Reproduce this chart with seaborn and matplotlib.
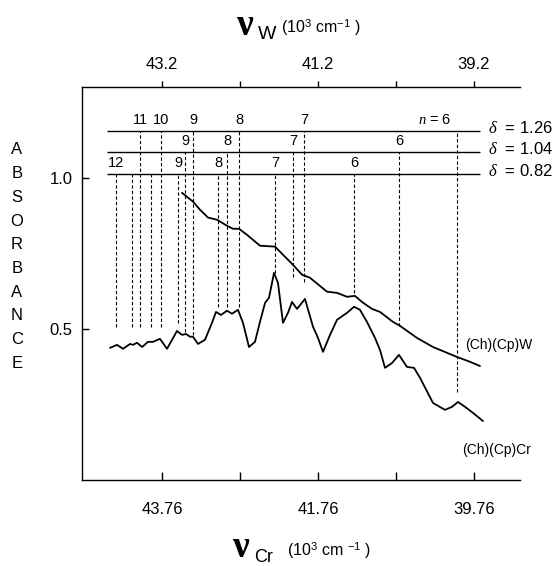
import matplotlib
matplotlib.use('Agg')
import matplotlib.pyplot as plt
import seaborn as sns
import pandas as pd

# (Ch)(Cp)Cr spectrum: wavenumber (10^3 cm-1, Cr scale) and absorbance
cr_wavenumber = [44.427, 44.337, 44.26, 44.17, 44.132, 44.081, 44.016, 43.939, 43.875, 43.786,
                 43.696, 43.568, 43.504, 43.452, 43.401, 43.363, 43.298, 43.209, 43.119, 43.068,
                 43.004, 42.927, 42.863, 42.786, 42.722, 42.645, 42.568, 42.504, 42.439, 42.388,
                 42.324, 42.273, 42.209, 42.145, 42.093, 42.029, 41.927, 41.824, 41.76, 41.696,
                 41.606, 41.516, 41.388, 41.298, 41.222, 41.132, 41.029, 40.965, 40.901, 40.811,
                 40.722, 40.619, 40.529, 40.452, 40.286, 40.132, 40.042, 39.965, 39.875, 39.773,
                 39.645]
cr_absorbance = [0.437, 0.447, 0.434, 0.450, 0.447, 0.454, 0.440, 0.457, 0.457, 0.467,
                 0.434, 0.493, 0.480, 0.483, 0.474, 0.474, 0.450, 0.464, 0.520, 0.556,
                 0.546, 0.560, 0.550, 0.563, 0.520, 0.440, 0.457, 0.523, 0.586, 0.603,
                 0.685, 0.652, 0.520, 0.553, 0.589, 0.566, 0.599, 0.507, 0.470, 0.424,
                 0.480, 0.530, 0.553, 0.573, 0.563, 0.523, 0.470, 0.430, 0.371, 0.387,
                 0.414, 0.374, 0.371, 0.338, 0.255, 0.232, 0.242, 0.258, 0.242, 0.222,
                 0.195]

# (Ch)(Cp)W spectrum, plotted on the Cr scale (nu_W = nu_Cr - 0.56)
w_wavenumber = [43.504, 43.363, 43.273, 43.17, 43.055, 42.927, 42.85, 42.773, 42.67, 42.504,
                42.311, 42.209, 42.081, 41.965, 41.863, 41.645, 41.516, 41.388, 41.286, 41.196,
                41.068, 40.965, 40.799, 40.709, 40.491, 40.286, 39.978, 39.811, 39.683]
w_absorbance = [0.950, 0.921, 0.894, 0.868, 0.861, 0.841, 0.831, 0.831, 0.811, 0.775,
                0.772, 0.745, 0.712, 0.679, 0.669, 0.623, 0.619, 0.606, 0.609, 0.589,
                0.566, 0.556, 0.523, 0.510, 0.470, 0.440, 0.407, 0.391, 0.377]
w_shift = 0.56

# Rydberg series: quantum defect, level of the marker line, n, positions, lower ends
deltas = [1.26, 1.04, 0.82]
delta_levels = [1.156, 1.086, 1.013]
series_n = [[6, 7, 8, 9, 10, 11],
            [6, 7, 8, 9],
            [6, 7, 8, 9, 10, 11, 12]]
series_x = [[39.978, 41.940, 42.773, 43.363, 43.773, 44.042],
            [40.722, 42.081, 42.927, 43.465],
            [41.298, 42.311, 43.042, 43.555, 43.901, 44.145, 44.350]]
series_end = [[0.291, 0.656, 0.573, 0.480, 0.507, 0.507],
              [0.510, 0.672, 0.573, 0.490],
              [0.619, 0.685, 0.573, 0.520, 0.507, 0.507, 0.507]]
series_labeled = [[6, 7, 8, 9, 10, 11],
                  [6, 7, 8, 9],
                  [6, 7, 8, 9, 12]]
line_span = (44.465, 39.683)

cr_ticks = [43.76, 42.76, 41.76, 40.76, 39.76]
cr_ticklabels = ['43.76', '', '41.76', '', '39.76']
w_ticks = [43.2, 42.2, 41.2, 40.2, 39.2]
w_ticklabels = ['43.2', '', '41.2', '', '39.2']
y_ticks = [0.5, 1.0]

sns.set_style('white')
plt.rcParams['font.family'] = ['Liberation Sans', 'DejaVu Sans']
plt.rcParams['mathtext.fontset'] = 'custom'
plt.rcParams['mathtext.rm'] = 'Liberation Sans'
plt.rcParams['mathtext.it'] = 'Liberation Serif:italic'
plt.rcParams['mathtext.bf'] = 'Liberation Serif:bold'
for key in ['text.color', 'axes.labelcolor', 'xtick.color', 'ytick.color', 'axes.edgecolor']:
    plt.rcParams[key] = 'black'

W, H = 553, 566
fig = plt.figure(figsize=(W / 100, H / 100), dpi=100)
ax = fig.add_axes([82 / W, 1 - 480 / H, (520 - 82) / W, (480 - 87) / H])

df_cr = pd.DataFrame({'wavenumber': cr_wavenumber, 'absorbance': cr_absorbance})
df_w = pd.DataFrame({'wavenumber': w_wavenumber, 'absorbance': w_absorbance})
sns.lineplot(data=df_cr, x='wavenumber', y='absorbance', ax=ax, color='black',
             linewidth=1.3, sort=False, estimator=None)
sns.lineplot(data=df_w, x='wavenumber', y='absorbance', ax=ax, color='black',
             linewidth=1.3, sort=False, estimator=None)

# series marker lines
for d, lev, ns, xs, ends, lab in zip(deltas, delta_levels, series_n, series_x,
                                     series_end, series_labeled):
    ax.hlines(lev, line_span[0], line_span[1], color='black', linewidth=1.0)
    ax.vlines(xs, ends, lev, color='black', linewidth=0.8, linestyles=(0, (3, 2)))
    for n, x in zip(ns, xs):
        if n not in lab:
            continue
        if n == 6 and d == deltas[0]:
            ax.annotate(r'$n$ = 6', (x, lev), xytext=(-4, 2.5), textcoords='offset points',
                        ha='right', va='bottom', fontsize=10.5)
        else:
            ax.annotate(str(n), (x, lev), xytext=(0, 2.5), textcoords='offset points',
                        ha='center', va='bottom', fontsize=10.5)
    ax.annotate(r'$\delta$  = %.2f' % d, (39.58, lev), xytext=(0, 2),
                textcoords='offset points', ha='left', va='center',
                fontsize=12, annotation_clip=False)

ax.text(39.875, 0.447, '(Ch)(Cp)W', fontsize=10, ha='left', va='center', clip_on=False)
ax.text(39.914, 0.099, '(Ch)(Cp)Cr', fontsize=10, ha='left', va='center', clip_on=False)

ax.set_xlim(44.786, 39.17)
ax.set_ylim(0, 1.30)
ax.set_xticks(cr_ticks)
ax.set_xticklabels(cr_ticklabels)
ax.set_yticks(y_ticks)
ax.set_yticklabels(['0.5', '1.0'])
ax.set_xlabel('')
ax.set_ylabel('')
ax.tick_params(axis='x', direction='in', length=6, width=1, labelsize=12, pad=16,
               bottom=True)
ax.tick_params(axis='y', direction='in', length=5, width=1, labelsize=12, pad=7,
               left=True)
for side in ['top', 'right']:
    ax.spines[side].set_visible(False)
for side in ['left', 'bottom']:
    ax.spines[side].set_linewidth(1.0)

secax = ax.secondary_xaxis('top', functions=(lambda v: v - w_shift, lambda v: v + w_shift))
secax.set_xticks(w_ticks)
secax.set_xticklabels(w_ticklabels)
secax.tick_params(direction='out', length=4, width=1, labelsize=12, pad=7)
secax.spines['top'].set_linewidth(1.0)

# y label as stacked letters
for i, ch in enumerate('ABSORBANCE'):
    fig.text(17 / W, 1 - (150 + i * 23.7) / H, ch, ha='center', va='center', fontsize=12)

# axis titles
fig.text(236 / W, 1 - 35 / H, '\u03bd', family='Liberation Serif', weight='bold',
         fontsize=27, ha='left', va='baseline')
fig.text(258 / W, 1 - 39 / H, 'W', fontsize=14, ha='left', va='baseline')
fig.text(281 / W, 1 - 33 / H, r'(10$^{3}$ cm$^{-1}$ )', fontsize=11.5, ha='left', va='baseline')

fig.text(232 / W, 1 - 557 / H, '\u03bd', family='Liberation Serif', weight='bold',
         fontsize=27, ha='left', va='baseline')
fig.text(254 / W, 1 - 566 / H, 'Cr', fontsize=13, ha='left', va='bottom')
fig.text(287 / W, 1 - 556 / H, r'(10$^{3}$ cm $^{-1}$ )', fontsize=11.5, ha='left', va='baseline')

fig.savefig('out.png', dpi=100)
